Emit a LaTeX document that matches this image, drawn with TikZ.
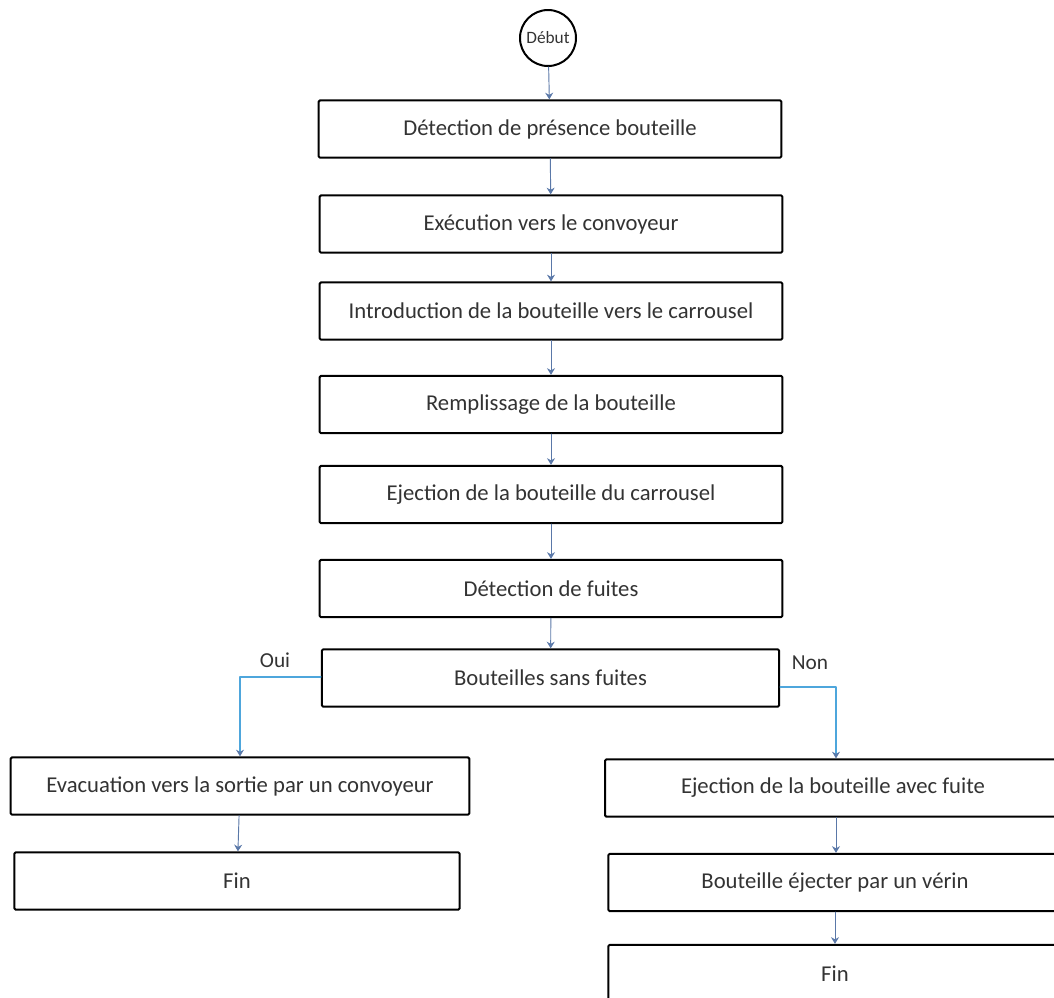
\documentclass[tikz,border=0pt]{standalone}
\usepackage{fontspec}
\setmainfont{Carlito}
\usepackage{tikz}
\usepackage{xcolor}
\usetikzlibrary{arrows.meta,positioning,calc}

\definecolor{flowgray}{HTML}{5A78A8}
\definecolor{branchblue}{HTML}{4EA6DC}
\definecolor{labelgray}{HTML}{333333}

\begin{document}
\begin{tikzpicture}[
		x=0.75pt,
		y=-0.75pt,
		line cap=round,
		line join=round,
		stepbox/.style={
			draw=black,
			line width=1.5pt,
			rounded corners=1pt,
			fill=white,
			minimum width=347pt,
			minimum height=43pt,
			inner sep=0pt,
			text=labelgray,
			font=\fontsize{17}{20}\selectfont
		},
		startnode/.style={
			draw=black,
			line width=1.5pt,
			circle,
			minimum size=42pt,
			inner sep=0pt,
			text=labelgray,
			font=\fontsize{13}{14}\selectfont
		},
		flow/.style={
			draw=flowgray,
			line width=0.7pt,
			-{Stealth[length=5pt,width=6pt]}
		},
		branch/.style={
			draw=branchblue,
			line width=1.0pt,
			-{Stealth[length=5pt,width=6pt,color=flowgray]}
		},
		answer/.style={
			text=labelgray,
			font=\fontsize{16}{19}\selectfont
		}
		]
		
		% page frame
		\useasboundingbox (0,0) rectangle (1054,997);
		
		% start
		\node[startnode] (debut) at (548,38) {Début};
		
		% main column
		\node[stepbox] (presence) at (550,129)   {Détection de présence bouteille};
		\node[stepbox] (convoyeur) at (551,224)  {Exécution vers le convoyeur};
		\node[stepbox] (intro) at (551,311)      {Introduction de la bouteille vers le carrousel};
		\node[stepbox] (remplir) at (551,404.5)  {Remplissage de la bouteille};
		\node[stepbox] (ejectcar) at (551,494.5) {Ejection de la bouteille du carrousel};
		\node[stepbox] (fuites) at (551,588.5)   {Détection de fuites};
		\node[stepbox, minimum width=343pt] (sansfuite) at (550.5,678) {Bouteilles sans fuites};
		
		% left branch (Oui)
		\node[stepbox, minimum width=344pt] (evac) at (240,786) {Evacuation vers la sortie par un convoyeur};
		\node[stepbox, minimum width=334pt] (finL) at (237,881) {Fin};
		
		% right branch (Non)
		\node[stepbox, minimum width=342pt] (ejectfuite) at (833,788) {Ejection de la bouteille avec fuite};
		\node[stepbox, minimum width=340pt] (verin) at (835,882.5)    {Bouteille éjecter par un vérin};
		\node[stepbox, minimum width=340pt] (finR) at (835,973.5)     {Fin};
		
		% main flow
		\draw[flow] (debut) -- (presence);
		\draw[flow] (presence) -- (convoyeur);
		\draw[flow] (convoyeur) -- (intro);
		\draw[flow] (intro) -- (remplir);
		\draw[flow] (remplir) -- (ejectcar);
		\draw[flow] (ejectcar) -- (fuites);
		\draw[flow] (fuites) -- (sansfuite);
		
		% decision
		\draw[branch] ($(sansfuite.west)+(0,-1)$) -| (evac.north);
		\draw[branch] ($(sansfuite.east)+(0,9)$) -| ($(ejectfuite.north)+(3,0)$);
		
		% branch flows
		\draw[flow] (evac) -- (finL);
		\draw[flow] ($(ejectfuite.south)+(3,0)$) -- ($(verin.north)+(1,0)$);
		\draw[flow] (verin) -- (finR);
		
		% labels
		\node[answer] (oui) at (275,660) {Oui};
		\node[answer] (non) at (810,663) {Non};
	\end{tikzpicture}
\end{document}
